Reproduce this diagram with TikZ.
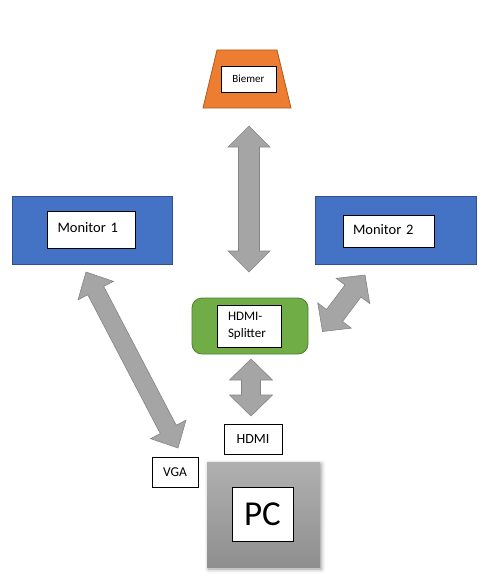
\documentclass[tikz,border=0pt]{standalone}
\usepackage{fontspec}
\setmainfont{Carlito}
\usetikzlibrary{calc,shadows.blur}

\definecolor{biemerorange}{HTML}{ED7D31}
\definecolor{biemerline}{HTML}{AE5A21}
\definecolor{monblue}{HTML}{4472C4}
\definecolor{monline}{HTML}{2F528F}
\definecolor{splitgreen}{HTML}{70AD47}
\definecolor{splitline}{HTML}{507E32}
\definecolor{arrowfill}{HTML}{A5A5A5}
\definecolor{arrowline}{HTML}{858585}

% block arrow with two heads: start, end, half shaft, half head, head length
\newcommand{\dblarrow}[5]{%
	\filldraw[arrowbody] (#1)
	-- ($(#1)!#5!(#2)!#4!90:(#2)$)
	-- ($(#1)!#5!(#2)!#3!90:(#2)$)
	-- ($(#2)!#5!(#1)!#3!-90:(#1)$)
	-- ($(#2)!#5!(#1)!#4!-90:(#1)$)
	-- (#2)
	-- ($(#2)!#5!(#1)!#4!90:(#1)$)
	-- ($(#2)!#5!(#1)!#3!90:(#1)$)
	-- ($(#1)!#5!(#2)!#3!-90:(#2)$)
	-- ($(#1)!#5!(#2)!#4!-90:(#2)$)
	-- cycle;}

\begin{document}
\begin{tikzpicture}[x=1pt,y=-1pt,
	textbox/.style={draw=black,fill=white,line width=0.9pt,inner sep=0pt,outer sep=0pt},
	monitor/.style={draw=monline,fill=monblue,line width=0.8pt,minimum width=160pt,minimum height=68pt,inner sep=0pt},
	arrowbody/.style={fill=arrowfill,draw=arrowline,line width=0.6pt,line join=miter}]
	
	\useasboundingbox (0,0) rectangle (488,578);
	
	% beamer body
	\filldraw[draw=biemerline,fill=biemerorange,line width=0.8pt] (217,50) -- (277,50) -- (291,108) -- (203,108) -- cycle;
	\node[monitor]                   (mon1)  at (92,230)    {};
	\node[monitor,minimum width=161pt] (mon2)  at (395.5,230) {};
	\node[draw=splitline,fill=splitgreen,line width=0.8pt,rounded corners=10pt,minimum width=116pt,minimum height=56pt,inner sep=0pt] (split) at (250,326) {};
	\node[top color=gray!62,bottom color=gray!88,blur shadow={shadow xshift=1.5pt,shadow yshift=-2pt,shadow blur radius=4pt},minimum width=113pt,minimum height=105pt,inner sep=0pt] (pc) at (263.5,514.5) {};
	
	\node[textbox,minimum width=55pt,minimum height=26pt,font=\fontsize{11}{13}\selectfont] (biemer) at (248.5,79) {Biemer};
	\node[textbox,minimum height=37pt,text width=67pt,inner xsep=10.5pt,text height=13pt,text depth=8pt,align=left,font=\fontsize{14.5}{17}\selectfont] (mon1Text) at (91,229.5) {Monitor 1};
	\node[textbox,minimum height=32pt,text width=71pt,inner xsep=10pt,text height=11pt,text depth=5pt,align=left,font=\fontsize{14.5}{17}\selectfont] (mon2Text) at (388.5,231) {Monitor 2};
	\node[textbox,minimum height=42pt,text width=42pt,inner xsep=11pt,align=left,font=\fontsize{13}{17}\selectfont] (splitText) at (249,326) {HDMI-\\Splitter};
	\node[textbox,minimum width=58pt,minimum height=30pt,font=\fontsize{14}{16}\selectfont] (hdmi) at (253,439) {HDMI};
	\node[textbox,minimum width=46pt,minimum height=30pt,font=\fontsize{13.5}{16}\selectfont] (vga) at (175,472) {VGA};
	\node[textbox,minimum width=61pt,minimum height=54pt,font=\fontsize{35}{40}\selectfont] (pcText) at (262.5,514) {PC};
	
	\coordinate (b1) at (249,126);
	\coordinate (b2) at (249,272);
	\coordinate (v1) at (86,272);
	\coordinate (v2) at (178,448);
	\coordinate (m1) at (365,275);
	\coordinate (m2) at (322.5,331.5);
	\coordinate (h1) at (251,359);
	\coordinate (h2) at (251,416);
	
	\dblarrow{b1}{b2}{10.5pt}{21pt}{21pt}
	\dblarrow{v1}{v2}{9pt}{20pt}{21pt}
	\dblarrow{m1}{m2}{10pt}{21pt}{20pt}
	\dblarrow{h1}{h2}{9.5pt}{21.5pt}{21pt}
	
\end{tikzpicture}
\end{document}
